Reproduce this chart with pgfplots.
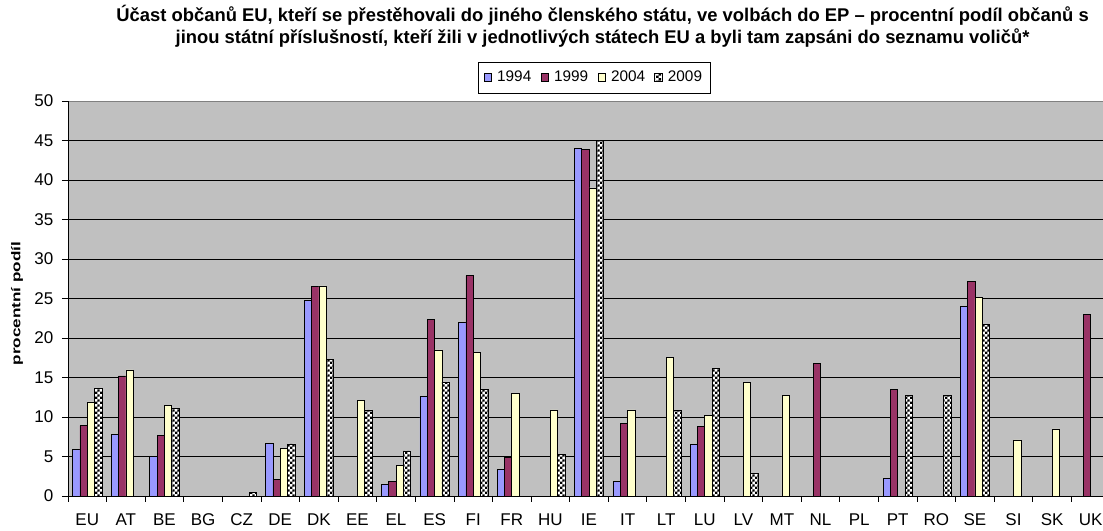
\documentclass[border=0pt]{standalone}
\usepackage{pgfplots}
\pgfplotsset{compat=1.18}
\usepackage{fontspec}
\setmainfont{Liberation Sans}
\newfontfamily\ylabfont[FakeStretch=1.35]{Liberation Sans}
\usetikzlibrary{patterns}
\pgfdeclarepatternformonly{finecheck}{\pgfpointorigin}{\pgfqpoint{4pt}{4pt}}{\pgfqpoint{4pt}{4pt}}{%
  \pgfpathrectangle{\pgfpointorigin}{\pgfqpoint{2pt}{2pt}}%
  \pgfpathrectangle{\pgfqpoint{2pt}{2pt}}{\pgfqpoint{2pt}{2pt}}%
  \pgfusepath{fill}}
\definecolor{cblue}{HTML}{9999FF}
\definecolor{cmaroon}{HTML}{993366}
\definecolor{cyellow}{HTML}{FFFFCC}
\definecolor{cgray}{HTML}{C0C0C0}
\begin{document}
\begin{tikzpicture}
\begin{axis}[
  at={(51pt,26.25pt)}, anchor=south west,
  scale only axis, width=781.5pt, height=296.25pt,
  xmin=-0.5, xmax=26.5, ymin=0, ymax=50,
  ybar=0pt, bar width=5.5pt,
  axis background/.style={fill=cgray, draw=gray},
  axis x line*=bottom, axis y line*=left,
  axis line style={-, black, line width=0.7pt},
  tick align=outside,
  major tick length=4.5pt,
  tick style={black, line width=0.6pt},
  xtick={-0.5,0.5,...,26.5},
  xticklabels={},
  extra x ticks={0,1,...,26},
  extra x tick labels={EU,AT,BE,BG,CZ,DE,DK,EE,EL,ES,FI,FR,HU,IE,IT,LT,LU,LV,MT,NL,PL,PT,RO,SE,SI,SK,UK},
  extra x tick style={major tick length=0pt},
  ytick={0,5,...,45},
  extra y ticks={50},
  extra y tick style={grid=none},
  ymajorgrids,
  major grid style={black, line width=0.6pt},
  /pgf/number format/assume math mode=true,
  tick label style={font=\fontsize{12.75}{14}\selectfont},
  xticklabel style={yshift=-9.5pt},
  yticklabel style={xshift=-3pt},
  ylabel={procentní podíl},
  ylabel style={at={(axis description cs:-0.049,0.487)}, anchor=center, font=\ylabfont\bfseries\fontsize{9.5}{11}\selectfont},
  title={Účast občanů EU, kteří se přestěhovali do jiného členského státu, ve volbách do EP – procentní podíl občanů s\\jinou státní příslušností, kteří žili v jednotlivých státech EU a byli tam zapsáni do seznamu voličů*},
  title style={at={(axis description cs:0.513,1.168)}, anchor=center, align=center, font=\bfseries\fontsize{13.8}{16.5}\selectfont},
  legend style={at={(axis description cs:0.505,1.0595)}, anchor=center, draw=black, fill=white,
    font=\fontsize{11.5}{13}\selectfont, inner xsep=4pt, inner ysep=5pt,
    /tikz/every odd column/.append style={column sep=2pt},
    /tikz/every even column/.append style={column sep=5pt}},
  legend columns=4,
  legend image code/.code={\draw[#1] (0pt,-2.8pt) rectangle (5.6pt,2.8pt);},
]
\addplot[fill=cblue, draw=black, line width=0.5pt] coordinates {
 (0,5.9) (1,7.8) (2,5.0) (5,6.7) (6,24.8) (8,1.5) (9,12.6) (10,22.0) (11,3.4)
 (13,44.0) (14,1.8) (16,6.5) (21,2.2) (23,24.0)};
\addplot[fill=cmaroon, draw=black, line width=0.5pt] coordinates {
 (0,8.9) (1,15.2) (2,7.7) (5,2.1) (6,26.5) (8,1.8) (9,22.3) (10,27.9) (11,4.9)
 (13,43.9) (14,9.2) (16,8.8) (19,16.8) (21,13.5) (23,27.2) (26,23.0)};
\addplot[fill=cyellow, draw=black, line width=0.5pt] coordinates {
 (0,11.9) (1,15.95) (2,11.5) (5,6.0) (6,26.6) (7,12.15) (8,3.9) (9,18.5) (10,18.2)
 (11,13.0) (12,10.9) (13,39.0) (14,10.9) (15,17.5) (16,10.2) (17,14.4) (18,12.7)
 (23,25.1) (24,7.1) (25,8.5)};
\addplot[fill=white, draw=black, line width=0.5pt, postaction={pattern=finecheck, pattern color=black}] coordinates {
 (0,13.6) (2,11.05) (4,0.5) (5,6.6) (6,17.3) (7,10.9) (8,5.7) (9,14.4) (10,13.5)
 (12,5.3) (13,45.0) (15,10.8) (16,16.1) (17,2.9) (21,12.7) (22,12.7) (23,21.7)};
\legend{1994,1999,2004,2009}
\end{axis}
\pgfresetboundingbox
\path[use as bounding box] (0pt,0pt) rectangle (827.25pt,398.25pt);
\end{tikzpicture}
\end{document}
